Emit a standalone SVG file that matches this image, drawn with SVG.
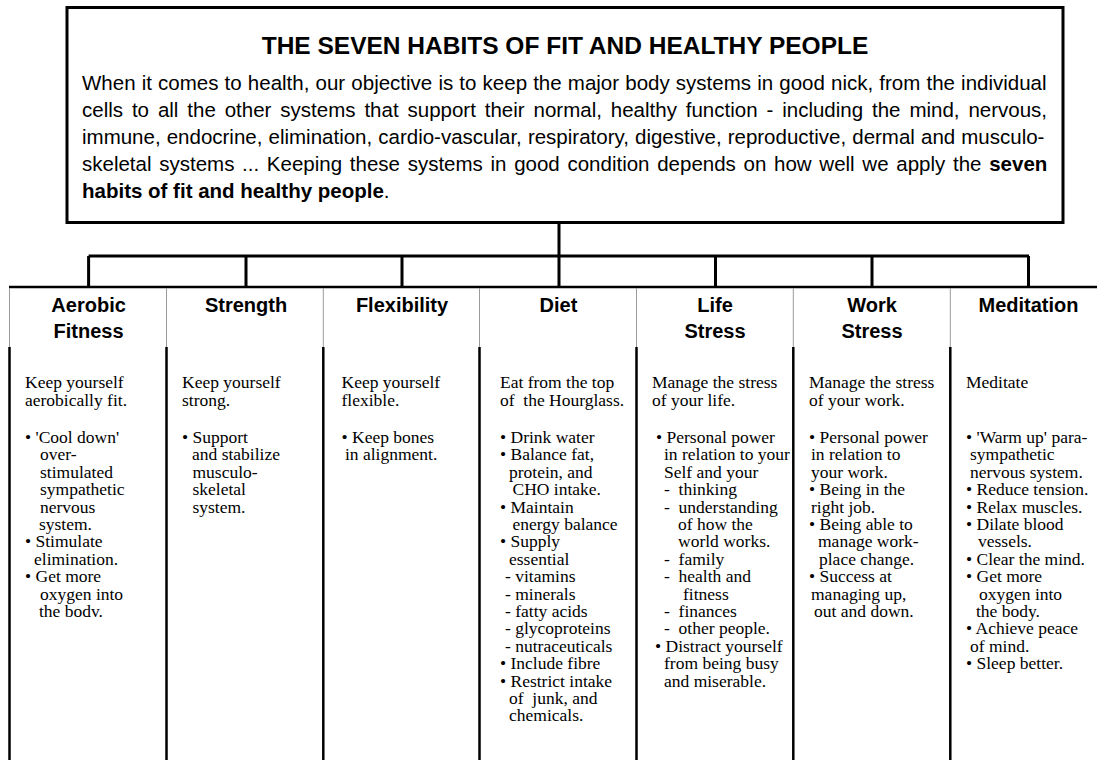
<svg xmlns="http://www.w3.org/2000/svg" width="1097" height="760" viewBox="0 0 1097 760">
<style>
.sans{font-family:"Liberation Sans",Arial,sans-serif;fill:#000}
.title{font-size:24.5px;font-weight:bold;text-anchor:middle}
.para{font-size:20.5px}
.hd{font-size:20px;font-weight:bold;text-anchor:middle}
.body{font-family:"Liberation Serif","Times New Roman",serif;font-size:17.5px;fill:#000}
.frame{fill:none;stroke:#000;stroke-width:3}
.conn{fill:none;stroke:#000;stroke-width:3}
.rule{fill:none;stroke:#000;stroke-width:2.5}
.thin{fill:none;stroke:#9a9a9a;stroke-width:1}
</style>
<rect width="1097" height="760" fill="#fff"/>

<!-- introduction box -->
<g id="intro">
<rect class="frame" x="67" y="7.5" width="996" height="215"/>
<text class="sans title" x="565" y="54">THE SEVEN HABITS OF FIT AND HEALTHY PEOPLE</text>
<text class="sans para" x="82" y="89.5" style="word-spacing:0.45px">When it comes to health, our objective is to keep the major body systems in good nick, from the individual</text>
<text class="sans para" x="82" y="116.5" style="word-spacing:3.2px">cells to all the other systems that support their normal, healthy function - including the mind, nervous,</text>
<text class="sans para" x="82" y="143.5" style="word-spacing:0.38px">immune, endocrine, elimination, cardio-vascular, respiratory, digestive, reproductive, dermal and musculo-</text>
<text class="sans para" x="82" y="170.5" style="word-spacing:2px">skeletal systems ... Keeping these systems in good condition depends on how well we apply the <tspan font-weight="bold">seven</tspan></text>
<text class="sans para" x="82" y="197.5"><tspan font-weight="bold">habits of fit and healthy people</tspan>.</text>
</g>

<!-- tree connectors -->
<g id="connectors" class="conn">
<path d="M559,222V287 M88.6,256H1029 M88.6,256V287 M246,256V287 M402,256V287 M715.5,256V287 M872,256V287 M1028.5,256V287"/>
</g>

<!-- column grid -->
<g id="grid">
<path class="rule" d="M9,287H1097"/>
<path class="thin" d="M9.5,288V347 M166.5,288V347 M323.3,288V347 M479.5,288V347 M636.5,288V347 M793.3,288V347 M950.3,288V347"/>
<path class="rule" d="M9.5,347V760 M166.5,347V760 M323.3,347V760 M479.5,347V760 M636.5,347V760 M793.3,347V760 M950.3,347V760"/>
</g>

<g id="aerobic-fitness">
<text class="sans hd" x="88.6" y="312">Aerobic</text>
<text class="sans hd" x="88.6" y="338">Fitness</text>
<text class="body">
<tspan x="25" y="388">Keep yourself</tspan>
<tspan x="25" y="406">aerobically fit.</tspan>
<tspan x="25" y="443">• 'Cool down'</tspan>
<tspan x="40" y="460.4">over-</tspan>
<tspan x="40" y="477.8">stimulated</tspan>
<tspan x="40" y="495.2">sympathetic</tspan>
<tspan x="40" y="512.6">nervous</tspan>
<tspan x="39" y="530">system.</tspan>
<tspan x="25" y="547.4">• Stimulate</tspan>
<tspan x="34" y="564.8">elimination.</tspan>
<tspan x="25" y="582.2">• Get more</tspan>
<tspan x="40" y="599.6">oxygen into</tspan>
<tspan x="39" y="617">the bodv.</tspan>
</text>
</g>

<g id="strength">
<text class="sans hd" x="246" y="312">Strength</text>
<text class="body">
<tspan x="182" y="388">Keep yourself</tspan>
<tspan x="182" y="406">strong.</tspan>
<tspan x="182" y="443">• Support</tspan>
<tspan x="192" y="460.4">and stabilize</tspan>
<tspan x="192.5" y="477.8">musculo-</tspan>
<tspan x="192.5" y="495.2">skeletal</tspan>
<tspan x="192.5" y="512.6">system.</tspan>
</text>
</g>

<g id="flexibility">
<text class="sans hd" x="402" y="312">Flexibility</text>
<text class="body">
<tspan x="341.5" y="388">Keep yourself</tspan>
<tspan x="341.5" y="406">flexible.</tspan>
<tspan x="341.5" y="443">• Keep bones</tspan>
<tspan x="345" y="460.4">in alignment.</tspan>
</text>
</g>

<g id="diet">
<text class="sans hd" x="558.5" y="312">Diet</text>
<text class="body">
<tspan x="500" y="388">Eat from the top</tspan>
<tspan x="500" y="406">of&#160; the Hourglass.</tspan>
<tspan x="500" y="443">• Drink water</tspan>
<tspan x="500" y="460.4">• Balance fat,</tspan>
<tspan x="509" y="477.8">protein, and</tspan>
<tspan x="512.5" y="495.2">CHO intake.</tspan>
<tspan x="500" y="512.6">• Maintain</tspan>
<tspan x="512.5" y="530">energy balance</tspan>
<tspan x="500" y="547.4">• Supply</tspan>
<tspan x="509" y="564.8">essential</tspan>
<tspan x="505" y="582.2">- vitamins</tspan>
<tspan x="505" y="599.6">- minerals</tspan>
<tspan x="505" y="617">- fatty acids</tspan>
<tspan x="505" y="634.4">- glycoproteins</tspan>
<tspan x="505" y="651.8">- nutraceuticals</tspan>
<tspan x="500" y="669.2">• Include fibre</tspan>
<tspan x="500" y="686.6">• Restrict intake</tspan>
<tspan x="509" y="704">of&#160; junk, and</tspan>
<tspan x="509" y="721.4">chemicals.</tspan>
</text>
</g>

<g id="life-stress">
<text class="sans hd" x="715" y="312">Life</text>
<text class="sans hd" x="715" y="338">Stress</text>
<text class="body">
<tspan x="652" y="388">Manage the stress</tspan>
<tspan x="652" y="406">of your life.</tspan>
<tspan x="656" y="443">• Personal power</tspan>
<tspan x="664" y="460.4">in relation to your</tspan>
<tspan x="664" y="477.8">Self and your</tspan>
<tspan x="664" y="495.2">-&#160; thinking</tspan>
<tspan x="664" y="512.6">-&#160; understanding</tspan>
<tspan x="678" y="530">of how the</tspan>
<tspan x="678" y="547.4">world works.</tspan>
<tspan x="664" y="564.8">-&#160; family</tspan>
<tspan x="664" y="582.2">-&#160; health and</tspan>
<tspan x="683" y="599.6">fitness</tspan>
<tspan x="664" y="617">-&#160; finances</tspan>
<tspan x="664" y="634.4">-&#160; other people.</tspan>
<tspan x="655" y="651.8">• Distract yourself</tspan>
<tspan x="664" y="669.2">from being busy</tspan>
<tspan x="664" y="686.6">and miserable.</tspan>
</text>
</g>

<g id="work-stress">
<text class="sans hd" x="872" y="312">Work</text>
<text class="sans hd" x="872" y="338">Stress</text>
<text class="body">
<tspan x="809" y="388">Manage the stress</tspan>
<tspan x="809" y="406">of your work.</tspan>
<tspan x="809" y="443">• Personal power</tspan>
<tspan x="811" y="460.4">in relation to</tspan>
<tspan x="811" y="477.8">your work.</tspan>
<tspan x="809" y="495.2">• Being in the</tspan>
<tspan x="811" y="512.6">right job.</tspan>
<tspan x="809" y="530">• Being able to</tspan>
<tspan x="818" y="547.4">manage work-</tspan>
<tspan x="819" y="564.8">place change.</tspan>
<tspan x="809" y="582.2">• Success at</tspan>
<tspan x="811" y="599.6">managing up,</tspan>
<tspan x="814" y="617">out and down.</tspan>
</text>
</g>

<g id="meditation">
<text class="sans hd" x="1028.5" y="312">Meditation</text>
<text class="body">
<tspan x="966" y="388">Meditate</tspan>
<tspan x="966" y="443">• 'Warm up' para-</tspan>
<tspan x="970" y="460.4">sympathetic</tspan>
<tspan x="970" y="477.8">nervous system.</tspan>
<tspan x="966" y="495.2">• Reduce tension.</tspan>
<tspan x="966" y="512.6">• Relax muscles.</tspan>
<tspan x="966" y="530">• Dilate blood</tspan>
<tspan x="978" y="547.4">vessels.</tspan>
<tspan x="966" y="564.8">• Clear the mind.</tspan>
<tspan x="966" y="582.2">• Get more</tspan>
<tspan x="979" y="599.6">oxygen into</tspan>
<tspan x="976" y="617">the body.</tspan>
<tspan x="966" y="634.4">• Achieve peace</tspan>
<tspan x="970" y="651.8">of mind.</tspan>
<tspan x="966" y="669.2">• Sleep better.</tspan>
</text>
</g>
</svg>
